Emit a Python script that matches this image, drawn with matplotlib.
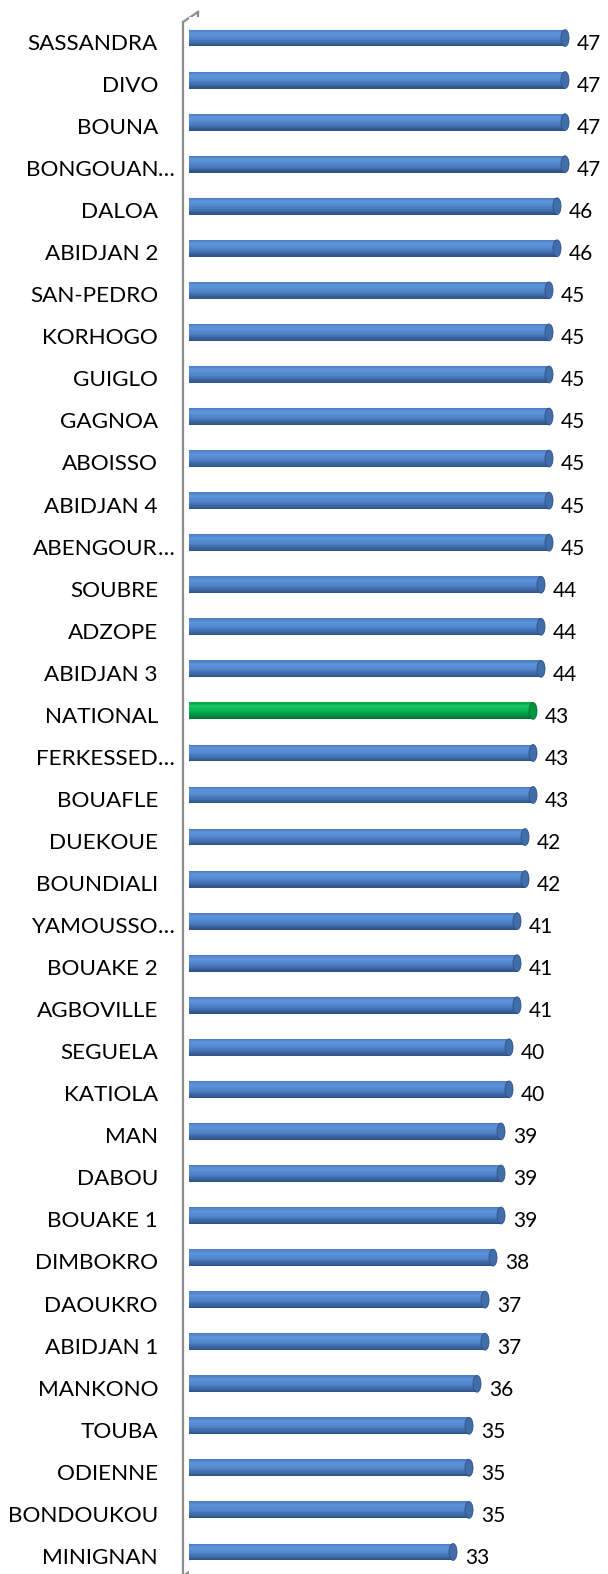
import numpy as np
import matplotlib.pyplot as plt
from matplotlib.patches import Ellipse
from matplotlib.lines import Line2D
from matplotlib.colors import to_rgb
from matplotlib.transforms import blended_transform_factory

regions = ["SASSANDRA", "DIVO", "BOUNA", "BONGOUAN…", "DALOA", "ABIDJAN 2",
           "SAN-PEDRO", "KORHOGO", "GUIGLO", "GAGNOA", "ABOISSO", "ABIDJAN 4",
           "ABENGOUR…", "SOUBRE", "ADZOPE", "ABIDJAN 3", "NATIONAL", "FERKESSED…",
           "BOUAFLE", "DUEKOUE", "BOUNDIALI", "YAMOUSSO…", "BOUAKE 2", "AGBOVILLE",
           "SEGUELA", "KATIOLA", "MAN", "DABOU", "BOUAKE 1", "DIMBOKRO",
           "DAOUKRO", "ABIDJAN 1", "MANKONO", "TOUBA", "ODIENNE", "BONDOUKOU",
           "MINIGNAN"]
values = [47, 47, 47, 47, 46, 46, 45, 45, 45, 45, 45, 45, 45, 44, 44, 44, 43, 43,
          43, 42, 42, 41, 41, 41, 40, 40, 39, 39, 39, 38, 37, 37, 36, 35, 35, 35, 33]
highlight = "NATIONAL"

W, H = 608, 1574
fig = plt.figure(figsize=(W / 100, H / 100), dpi=100)

# axes placed in pixels: bars start at x=189, about 8.0 px per unit
x0, x1 = 189, 600
y_top, y_bot = 17, 1573
ax = fig.add_axes([x0 / W, (H - y_bot) / H, (x1 - x0) / W, (y_bot - y_top) / H])
n = len(regions)
ax.set_xlim(0, (x1 - x0) / 8.0)
ax.set_ylim(n - 0.5, -0.5)

bh = 0.40
ypos = np.arange(n)
txt_drop = 0.14  # labels sit a little below the bars (3d look)

blue_stops = [(0.0, "#4A7CC0"), (0.22, "#5F95DC"), (0.55, "#5084C9"), (1.0, "#2E5086")]
green_stops = [(0.0, "#00A046"), (0.22, "#1ECB66"), (0.55, "#00B04F"), (1.0, "#006F30")]

def shade(stops, t):
    ts = [s[0] for s in stops]
    cs = np.array([to_rgb(s[1]) for s in stops])
    return tuple(np.interp(t, ts, cs[:, k]) for k in range(3))

nstrip = 14
is_hl = np.array([r == highlight for r in regions])
for k in range(nstrip):
    t = (k + 0.5) / nstrip
    offs = -bh / 2 + bh * t
    cols = [shade(green_stops if h else blue_stops, t) for h in is_hl]
    ax.barh(ypos + offs, values, height=bh / nstrip * 1.05, color=cols,
            edgecolor="none", zorder=2)

# rounded ends of the cylinders
for y, v, h in zip(ypos, values, is_hl):
    stops = green_stops if h else blue_stops
    ax.add_patch(Ellipse((v, y), 1.0, bh, facecolor=shade(stops, 0.75),
                         edgecolor=shade(stops, 1.0), lw=0.6, zorder=4))
    ax.add_patch(Ellipse((0.0, y), 1.0, bh, facecolor=shade(stops, 0.4),
                         edgecolor="none", zorder=1))

for y, v in zip(ypos, values):
    ax.text(v + 1.5, y + txt_drop, str(v), va="center", ha="left", fontsize=15,
            family="Lato", color="black")

# category labels: right edge at x=158px, the "…" of cut names hangs past it
lab_x = (158 - x0) / (x1 - x0)
tr = blended_transform_factory(ax.transAxes, ax.transData)
for y, r in zip(ypos, regions):
    base = r.rstrip("…")
    ax.text(lab_x, y + txt_drop, base, ha="right", va="center", fontsize=16.2,
            family="Lato", transform=tr, clip_on=False)
    if r.endswith("…"):
        ax.text(lab_x, y + txt_drop, "…", ha="left", va="center", fontsize=16.2,
                family="Lato", transform=tr, clip_on=False)

ax.set_yticks([])
ax.set_xticks([])
for s in ax.spines.values():
    s.set_visible(False)

# side wall drawn in figure pixels
def px(x, y):
    return x / W, (H - y) / H

wall = "#8C8C8C"
for (xa, ya), (xb, yb) in [((183, 22), (183, 1574)), ((198, 12), (198, 1566)),
                           ((183, 22), (198, 12)), ((198, 1566), (186, 1574))]:
    (ax_, ay_), (bx_, by_) = px(xa, ya), px(xb, yb)
    fig.add_artist(Line2D([ax_, bx_], [ay_, by_], color=wall, lw=1.6, zorder=0))

fig.savefig("out.png", dpi=100)
